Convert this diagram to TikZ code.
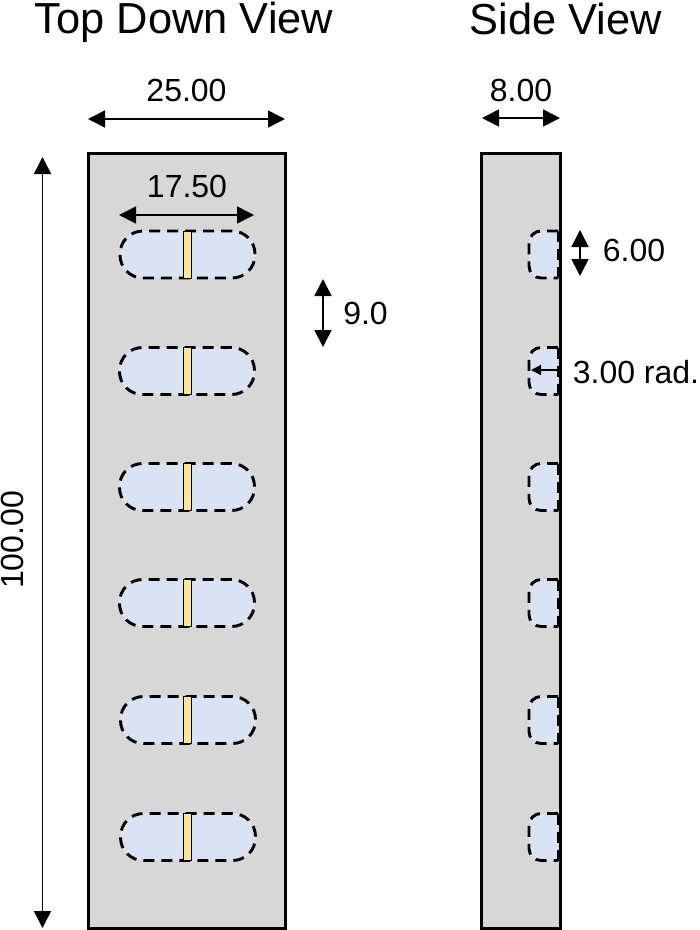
\documentclass[tikz,border=0pt]{standalone}
\usepackage{fontspec}
\setmainfont{Liberation Sans}
\usetikzlibrary{arrows.meta}
\tikzset{
  x=1pt,y=-1pt,
  body/.style={draw=black,line width=3pt,fill=bodygray,minimum width=#1,minimum height=775pt,inner sep=0pt,outer sep=0pt},
  dashline/.style={draw=black,line width=2.9pt,dash pattern=on 11pt off 7pt},
  pill/.style={dashline,fill=pillblue,rounded corners=23pt,minimum width=135pt,minimum height=47pt,inner sep=0pt,outer sep=0pt},
  bar/.style={draw=black,line width=.8pt,fill=baryellow,minimum width=7.5pt,minimum height=47pt,inner sep=0pt,outer sep=0pt},
  dim/.style={line width=1.6pt,{Triangle[length=17pt,width=17pt]}-{Triangle[length=17pt,width=17pt]}},
  radius dim/.style={line width=1.4pt,-{Triangle[length=10pt,width=10pt]}},
  lab/.style={font=\fontsize{32}{36}\selectfont,inner sep=0pt,text=black,anchor=base},
  head/.style={font=\fontsize{43.4}{48}\selectfont,inner sep=0pt,text=black,anchor=base},
}
\definecolor{bodygray}{RGB}{215,215,215}
\definecolor{pillblue}{RGB}{218,227,243}
\definecolor{baryellow}{RGB}{255,230,153}
\begin{document}
\begin{tikzpicture}
\useasboundingbox (0,0) rectangle (700,930);
\node[body=197pt] (top) at (186.5,540.5) {};
\node[body=79pt] (side) at (520.5,540.5) {};
\foreach \n/\y/\cx in {1/254.5/187.5,2/371/187,3/487/187,4/603/187,5/720/188,6/837/188}{
  \node[pill] (p\n) at (\cx,\y) {};
  \node[bar] (b\n) at (187.5,\y) {};
  \fill[pillblue] (558,\y-23.5) -- (541,\y-23.5) [rounded corners=12pt] -- (529,\y-23.5) -- (529,\y+23.5) [sharp corners] -- (558,\y+23.5) -- cycle;
  \draw[dashline,rounded corners=12pt] (558,\y-23.5) -- (529,\y-23.5) -- (529,\y+23.5) -- (558,\y+23.5);
  \draw[dashline] (558,\y-23.5) -- (558,\y+23.5);
}
\node[head] (t1) at (184,33.5) {Top Down View};
\node[head] (t2) at (566,34) {Side View};
\node[lab] (l25) at (186.5,101) {25.00};
\node[lab] (l8) at (521,101) {8.00};
\node[lab] (l17) at (187,197) {17.50};
\node[lab] (l9) at (365.5,324) {9.0};
\node[lab] (l6) at (634,261) {6.00};
\node[lab] (l3) at (636,383) {3.00 rad.};
\node[lab,rotate=90] (l100) at (23.5,540) {100.00};
\coordinate (a25l) at (88,119); \coordinate (a25r) at (285,119);
\coordinate (a8l) at (482,118); \coordinate (a8r) at (560,118);
\coordinate (a17l) at (119,215); \coordinate (a17r) at (254,215);
\coordinate (a9t) at (323,279); \coordinate (a9b) at (323,347);
\coordinate (a6t) at (580,230); \coordinate (a6b) at (580,276);
\coordinate (a100t) at (42.5,157); \coordinate (a100b) at (42.5,928);
\coordinate (a3r) at (559,370); \coordinate (a3l) at (531,370);
\draw[dim] (a25l) -- (a25r);
\draw[dim] (a8l) -- (a8r);
\draw[dim] (a17l) -- (a17r);
\draw[dim] (a9t) -- (a9b);
\draw[dim] (a6t) -- (a6b);
\draw[dim] (a100t) -- (a100b);
\draw[radius dim] (a3r) -- (a3l);
\end{tikzpicture}
\end{document}
